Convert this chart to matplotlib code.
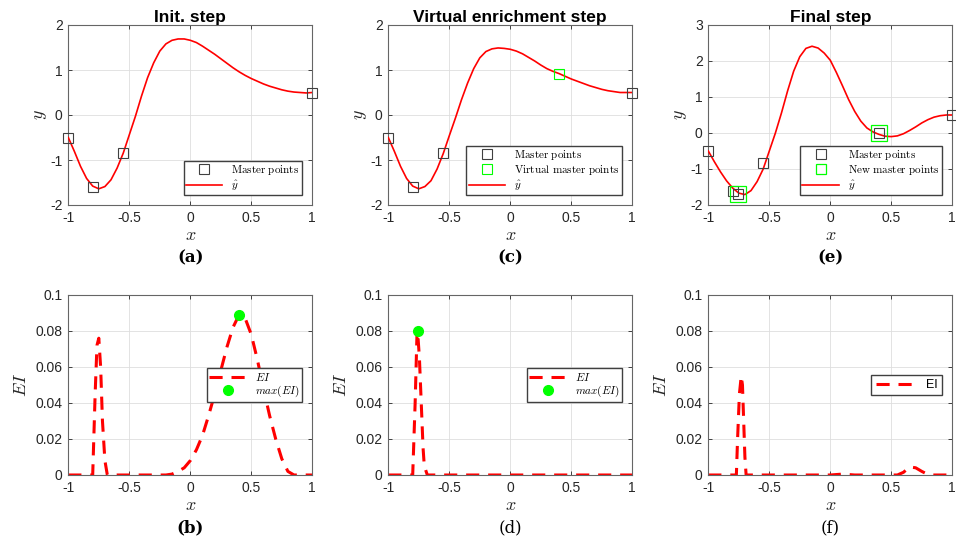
import numpy as np
import matplotlib
matplotlib.use('Agg')
import matplotlib.pyplot as plt

plt.rcParams['font.family'] = ['Liberation Sans', 'DejaVu Sans']
plt.rcParams['mathtext.fontset'] = 'cm'
plt.rcParams['axes.unicode_minus'] = False

# common sampling of the surrogate curves
x_grid = np.linspace(-1, 1, 41)

# surrogate prediction, initial step
yhat_init = [-0.50, -0.81, -1.14, -1.41, -1.58, -1.64, -1.59, -1.44, -1.18, -0.85,
             -0.44, -0.03, 0.42, 0.83, 1.16, 1.42, 1.58, 1.66, 1.69, 1.69,
             1.66, 1.61, 1.53, 1.44, 1.35, 1.25, 1.15, 1.05, 0.96, 0.88,
             0.81, 0.75, 0.69, 0.64, 0.60, 0.56, 0.53, 0.51, 0.50, 0.49, 0.50]
# surrogate prediction with the virtual point
yhat_virtual = [-0.50, -0.81, -1.14, -1.41, -1.58, -1.64, -1.59, -1.46, -1.20, -0.86,
                -0.46, -0.07, 0.34, 0.71, 1.03, 1.27, 1.41, 1.47, 1.49, 1.48,
                1.46, 1.42, 1.36, 1.28, 1.20, 1.11, 1.03, 0.97, 0.92, 0.86,
                0.80, 0.75, 0.70, 0.65, 0.61, 0.57, 0.54, 0.52, 0.50, 0.50, 0.50]
# surrogate prediction, final step
yhat_final = [-0.50, -0.80, -1.08, -1.33, -1.53, -1.67, -1.71, -1.60, -1.35, -1.00,
              -0.50, 0.00, 0.56, 1.17, 1.72, 2.12, 2.35, 2.41, 2.36, 2.22,
              2.02, 1.68, 1.31, 0.93, 0.60, 0.33, 0.14, 0.03, -0.04, -0.09,
              -0.10, -0.08, -0.02, 0.07, 0.17, 0.28, 0.37, 0.44, 0.48, 0.50, 0.50]

master_x = [-1, -0.8, -0.55, 1]
master_y = [-0.5, -1.59, -0.84, 0.5]
virtual_x = [0.4]
virtual_y = [0.92]
final_master_x = [-1, -0.8, -0.76, -0.55, 0.4, 1]
final_master_y = [-0.5, -1.6, -1.7, -0.84, 0.0, 0.5]
new_master_x = [-0.76, 0.4]
new_master_y = [-1.7, 0.0]

# expected improvement curves
ei_init_x = [-1, -0.8, -0.78, -0.765, -0.75, -0.735, -0.72, -0.70, -0.68, -0.2,
             -0.15, -0.1, -0.05, 0, 0.05, 0.1, 0.15, 0.2, 0.25, 0.3, 0.35, 0.4,
             0.45, 0.5, 0.55, 0.6, 0.65, 0.7, 0.75, 0.8, 0.85, 1]
ei_init_y = [0, 0, 0.045, 0.072, 0.076, 0.06, 0.03, 0.008, 0, 0,
             0.0005, 0.002, 0.004, 0.008, 0.014, 0.022, 0.033, 0.045, 0.058, 0.071, 0.082, 0.089,
             0.087, 0.078, 0.064, 0.048, 0.033, 0.02, 0.009, 0.002, 0, 0]
ei_virtual_x = [-1, -0.8, -0.78, -0.765, -0.76, -0.745, -0.73, -0.715, -0.705, -0.69, -0.68, 1]
ei_virtual_y = [0, 0, 0.04, 0.078, 0.08, 0.065, 0.04, 0.015, 0.005, 0.002, 0, 0]
ei_final_x = [-1, -0.77, -0.76, -0.745, -0.73, -0.72, -0.71, -0.70, -0.69, 0.0, 0.1, 0.2,
              0.55, 0.6, 0.65, 0.7, 0.75, 0.8, 0.85, 1]
ei_final_y = [0, 0, 0.02, 0.045, 0.055, 0.05, 0.03, 0.01, 0, 0, 0.0005, 0,
              0, 0.0015, 0.0045, 0.004, 0.002, 0.0003, 0, 0]
max_ei_init = (0.4, 0.089)
max_ei_virtual = (-0.76, 0.08)

titles = ['Init. step', 'Virtual enrichment step', 'Final step']
captions_top = [('(a)', 'bold'), ('(c)', 'bold'), ('(e)', 'bold')]
captions_bot = [('(b)', 'bold'), ('(d)', 'normal'), ('(f)', 'normal')]

W, H = 956, 538
fig = plt.figure(figsize=(W / 100, H / 100), dpi=100)
lefts = [68.3, 388.3, 708.3]
aw, ah = 244, 180
top_axes = [fig.add_axes([l / W, 1 - 205 / H, aw / W, ah / H]) for l in lefts]
bot_axes = [fig.add_axes([l / W, 1 - 475 / H, aw / W, ah / H]) for l in lefts]

edge = (0.15, 0.15, 0.15)
red = (1, 0, 0)
green = (0, 1, 0)
sq_col = (0.25, 0.25, 0.25)
dash = (0, (4.3, 2.9))


def style(ax):
    ax.set_xlim(-1, 1)
    ax.set_xticks([-1, -0.5, 0, 0.5, 1])
    ax.set_xticklabels(['-1', '-0.5', '0', '0.5', '1'])
    ax.grid(True, color=(0.87, 0.87, 0.87), linewidth=0.6)
    ax.set_axisbelow(True)
    ax.tick_params(direction='in', length=3, width=0.6, labelsize=10,
                   top=True, right=True, colors=edge, pad=4)
    for s in ax.spines.values():
        s.set_color((0.4, 0.4, 0.4))
        s.set_linewidth(0.8)
    ax.set_xlabel(r'$x$', fontsize=13, labelpad=2, color=edge)


leg_kw = dict(fancybox=False, edgecolor=(0.25, 0.25, 0.25), framealpha=1,
              fontsize=8, handlelength=3.3, borderpad=0.2, labelspacing=0.12,
              handletextpad=0.8, borderaxespad=0)


def caption(ax_left, y_px, text, weight):
    fig.text((ax_left + aw / 2) / W, 1 - y_px / H, text, ha='center', va='center',
             fontsize=12, family='DejaVu Serif', fontweight=weight)


# top row: surrogate predictions
curves = [yhat_init, yhat_virtual, yhat_final]
for i, ax in enumerate(top_axes):
    style(ax)
    if i < 2:
        mx, my = master_x, master_y
    else:
        mx, my = final_master_x, final_master_y
    h_master, = ax.plot(mx, my, 's', mfc='none', mec=sq_col, ms=6.5, mew=0.8,
                        clip_on=False, zorder=4, label=r'$\mathrm{Master\ points}$')
    handles = [h_master]
    if i == 1:
        h_v, = ax.plot(virtual_x, virtual_y, 's', mfc='none', mec=green, ms=6.5, mew=0.8,
                       clip_on=False, zorder=4, label=r'$\mathrm{Virtual\ master\ points}$')
        handles.append(h_v)
    if i == 2:
        h_n, = ax.plot(new_master_x, new_master_y, 's', mfc='none', mec=green, ms=11, mew=0.9,
                       clip_on=False, zorder=4, label=r'$\mathrm{New\ master\ points}$')
        handles.append(h_n)
    h_y, = ax.plot(x_grid, curves[i], color=red, lw=1.2, label=r'$\hat{y}$', zorder=3)
    handles.append(h_y)
    if i == 2:
        ax.set_ylim(-2, 3)
        ax.set_yticks([-2, -1, 0, 1, 2, 3])
    else:
        ax.set_ylim(-2, 2)
        ax.set_yticks([-2, -1, 0, 1, 2])
    ax.set_ylabel(r'$y$', fontsize=13, color=edge, labelpad=1)
    ax.set_title(titles[i], fontsize=12.5, fontweight='bold', pad=2)
    leg = ax.legend(handles=handles, loc='lower right', bbox_to_anchor=(0.957, 0.056), **leg_kw)
    if i == 2:
        leg.legend_handles[1].set_markersize(7)
    caption(lefts[i], 258, *captions_top[i])

# bottom row: expected improvement
ei_curves = [(ei_init_x, ei_init_y), (ei_virtual_x, ei_virtual_y), (ei_final_x, ei_final_y)]
maxima = [max_ei_init, max_ei_virtual, None]
for i, ax in enumerate(bot_axes):
    style(ax)
    ex, ey = ei_curves[i]
    if i < 2:
        h_ei, = ax.plot(ex, ey, color=red, lw=2.2, linestyle=dash, label=r'$EI$')
        h_max, = ax.plot([maxima[i][0]], [maxima[i][1]], 'o', color=green, ms=7,
                         label=r'$max(EI)$')
        ax.legend(handles=[h_ei, h_max], loc='center right', bbox_to_anchor=(0.957, 0.5),
                  **leg_kw)
    else:
        h_ei, = ax.plot(ex, ey, color=red, lw=2.2, linestyle=dash, label='EI')
        f_kw = dict(leg_kw, fontsize=9, borderpad=0.35, handlelength=3.2)
        ax.legend(handles=[h_ei], loc='center right', bbox_to_anchor=(0.957, 0.5), **f_kw)
    ax.set_ylim(0, 0.1)
    ax.set_yticks([0, 0.02, 0.04, 0.06, 0.08, 0.1])
    ax.set_yticklabels(['0', '0.02', '0.04', '0.06', '0.08', '0.1'])
    ax.set_ylabel(r'$EI$', fontsize=13, color=edge)
    caption(lefts[i], 528, *captions_bot[i])

fig.savefig('out.png', dpi=100)
